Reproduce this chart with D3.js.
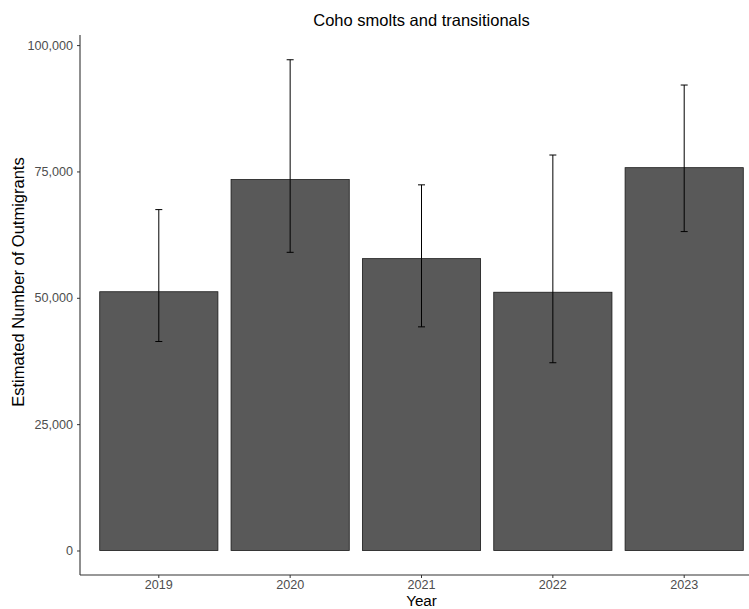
<!DOCTYPE html>
<html>
<head>
<meta charset="utf-8">
<script src="https://cdn.jsdelivr.net/npm/d3@7"></script>
<style>
  html, body { margin: 0; padding: 0; background: #fff; }
  svg { display: block; font-family: "Liberation Sans", Arial, sans-serif; }
</style>
</head>
<body>
<svg id="chart" width="749" height="609"></svg>
<script>
// Estimated coho outmigrants per year with confidence limits
const years = ["2019", "2020", "2021", "2022", "2023"];
const estimates = [51200, 73400, 57750, 51100, 75750];
const lowerCI = [41350, 59000, 44250, 37150, 63100];
const upperCI = [67450, 97100, 72350, 78250, 92100];
const yTicks = [0, 25000, 50000, 75000, 100000];

const svg = d3.select("#chart");
const panelLeft = 80, panelRight = 763, panelTop = 35, panelBottom = 575;

const x = d3.scaleBand()
  .domain(years)
  .range([panelLeft, panelRight])
  .paddingInner(0.1)
  .paddingOuter(0.15);

const y = d3.scaleLinear()
  .domain([-4850, 102000])
  .range([panelBottom, panelTop]);

const rows = years.map((yr, i) => ({ yr, est: estimates[i], lo: lowerCI[i], hi: upperCI[i] }));

// bars
svg.append("g").selectAll("rect")
  .data(rows)
  .join("rect")
  .attr("x", d => x(d.yr))
  .attr("width", x.bandwidth())
  .attr("y", d => y(d.est))
  .attr("height", d => y(0) - y(d.est))
  .attr("fill", "#595959")
  .attr("stroke", "#1a1a1a")
  .attr("stroke-width", 0.8);

// error bars
const eb = svg.append("g").attr("stroke", "#000").attr("stroke-width", 1);
const cx = d => x(d.yr) + x.bandwidth() / 2;
eb.selectAll("line.v").data(rows).join("line").attr("class", "v")
  .attr("x1", cx).attr("x2", cx)
  .attr("y1", d => y(d.lo)).attr("y2", d => y(d.hi));
eb.selectAll("line.t").data(rows).join("line").attr("class", "t")
  .attr("x1", d => cx(d) - 3.5).attr("x2", d => cx(d) + 3.5)
  .attr("y1", d => y(d.hi)).attr("y2", d => y(d.hi));
eb.selectAll("line.b").data(rows).join("line").attr("class", "b")
  .attr("x1", d => cx(d) - 3.5).attr("x2", d => cx(d) + 3.5)
  .attr("y1", d => y(d.lo)).attr("y2", d => y(d.lo));

// axes
const fmt = d3.format(",");
const yAxis = svg.append("g")
  .attr("transform", `translate(${panelLeft},0)`)
  .call(d3.axisLeft(y).tickValues(yTicks).tickFormat(fmt).tickSize(3).tickPadding(4).tickSizeOuter(0));
yAxis.select(".domain").attr("d", `M0,${panelBottom}V${panelTop}`);

const xAxis = svg.append("g")
  .attr("transform", `translate(0,${panelBottom})`)
  .call(d3.axisBottom(x).tickSize(3).tickPadding(2.5).tickSizeOuter(0));
xAxis.select(".domain").attr("d", `M${panelLeft},0H749`);

[yAxis, xAxis].forEach(ax => {
  ax.select(".domain").attr("stroke", "#333").attr("stroke-width", 1.1);
  ax.selectAll(".tick line").attr("stroke", "#333");
  ax.selectAll(".tick text")
    .attr("fill", "#4d4d4d")
    .style("font-size", "12.6px")
    .style("font-family", "'Liberation Sans', Arial, sans-serif");
});

// title and axis titles
svg.append("text")
  .attr("x", (panelLeft + panelRight) / 2).attr("y", 26)
  .attr("text-anchor", "middle")
  .style("font-size", "16.5px").attr("fill", "#000")
  .text("Coho smolts and transitionals");

svg.append("text")
  .attr("x", (panelLeft + panelRight) / 2).attr("y", 605.5)
  .attr("text-anchor", "middle")
  .style("font-size", "15.2px").attr("fill", "#000")
  .text("Year");

svg.append("text")
  .attr("transform", `translate(24,282) rotate(-90)`)
  .attr("text-anchor", "middle")
  .style("font-size", "16.5px").attr("fill", "#000")
  .text("Estimated Number of Outmigrants");
</script>
</body>
</html>
